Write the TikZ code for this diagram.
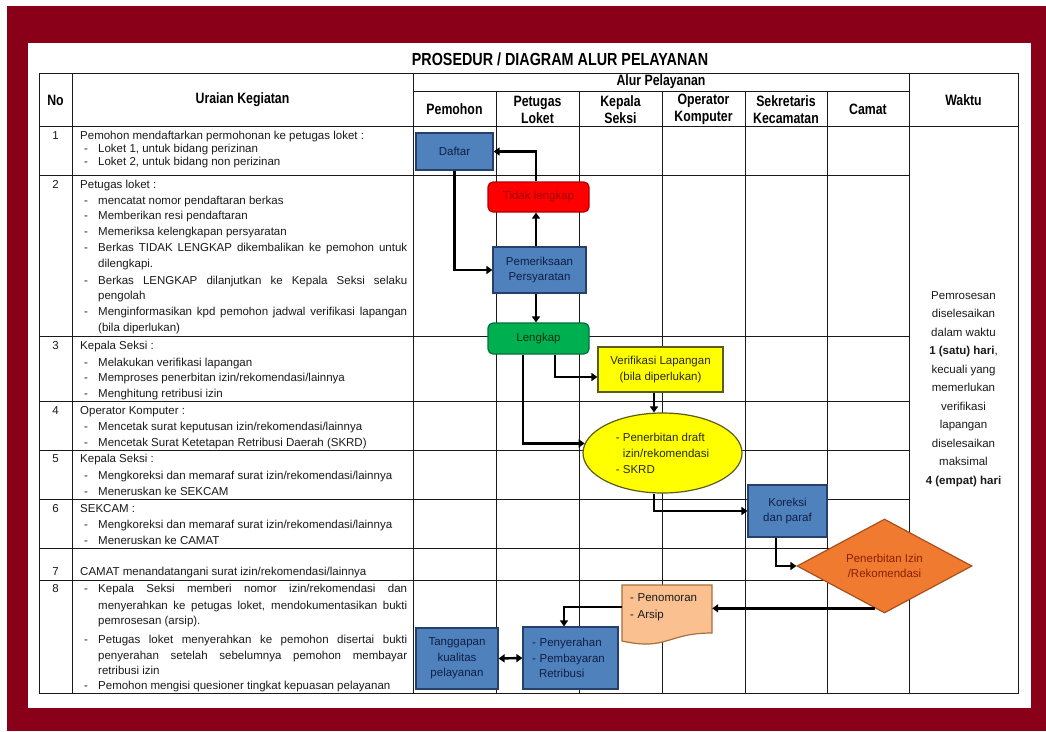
\documentclass[tikz,border=0pt]{standalone}
\usepackage{fontspec}
\setmainfont{Liberation Sans}
\newfontfamily\narrowfam[FakeStretch=0.82]{Liberation Sans}
\usetikzlibrary{shapes.geometric,arrows.meta,calc}
\definecolor{framered}{HTML}{8A0018}
\definecolor{gridc}{HTML}{1A1A1A}
\definecolor{txtc}{HTML}{1A1A1A}
\definecolor{bluefill}{HTML}{4F81BD}
\definecolor{bluedraw}{HTML}{26406B}
\definecolor{bluetext}{HTML}{0F1F45}
\definecolor{redfill}{HTML}{FF0000}
\definecolor{reddraw}{HTML}{B00000}
\definecolor{redtext}{HTML}{A00000}
\definecolor{greenfill}{HTML}{00B050}
\definecolor{greendraw}{HTML}{00703A}
\definecolor{greentext}{HTML}{0B3312}
\definecolor{yelfill}{HTML}{FFFF00}
\definecolor{yeldraw}{HTML}{5C5C1A}
\definecolor{yeltext}{HTML}{2A2A10}
\definecolor{orfill}{HTML}{F07B30}
\definecolor{ordraw}{HTML}{A8501C}
\definecolor{ortext}{HTML}{8B2000}
\definecolor{peachfill}{HTML}{FAC090}
\definecolor{peachdraw}{HTML}{A8703C}
\newcommand\bul{\makebox[14pt][l]{-}}
\newcommand\jl[1]{\makebox[309pt][s]{#1}}
\begin{document}
\begin{tikzpicture}[x=1pt,y=-1pt,
  gridln/.style={draw=gridc,line width=1pt},
  txt/.style={anchor=base west,inner sep=0,text=txtc,font=\fontsize{11.5}{13.8}\selectfont},
  num/.style={anchor=base,inner sep=0,text=txtc,font=\fontsize{11.5}{13.8}\selectfont},
  hdr/.style={inner sep=0,align=center,text=black,font=\narrowfam\bfseries\fontsize{15}{17}\selectfont},
  flowbox/.style={inner sep=0,align=center,line width=1.2pt,font=\fontsize{11.5}{15.5}\selectfont},
  bluebox/.style={flowbox,draw=bluedraw,fill=bluefill,text=bluetext},
  arr/.style={line width=2.4pt,-{Triangle[length=6pt,width=8pt]}},
  dbl/.style={line width=2.4pt,{Triangle[length=6pt,width=8pt]}-{Triangle[length=6pt,width=8pt]}}
]
\useasboundingbox (0,0) rectangle (1046,731);
\fill[white] (0,0) rectangle (1046,731);
\fill[framered] (7,6) rectangle (1046,731);
\fill[white] (28,43) rectangle (1031,708);

% title
\node[inner sep=0,font=\narrowfam\bfseries\fontsize{17.5}{20}\selectfont] (title) at (560,59.5) {PROSEDUR / DIAGRAM ALUR PELAYANAN};

% grid
\draw[gridln] (39,73) rectangle (1018,693);
\draw[gridln] (72,73) -- (72,693);
\draw[gridln] (413,73) -- (413,693);
\draw[gridln] (909,73) -- (909,693);
\draw[gridln] (413,91) -- (909,91);
\foreach \x in {496,579,662,745,827} \draw[gridln] (\x,91) -- (\x,693);
\draw[gridln] (39,126) -- (1018,126);
\foreach \y in {175,336,401,450,499,548,580} \draw[gridln] (39,\y) -- (909,\y);

% headers
\node[hdr] (hno) at (55.5,100) {No};
\node[hdr] (hur) at (242.5,100) {Uraian Kegiatan};
\node[hdr] (halur) at (661,82) {Alur Pelayanan};
\node[hdr] (hwak) at (963.5,100) {Waktu};
\node[hdr] (hpem) at (454.5,109.5) {Pemohon};
\node[hdr] (hpet) at (537.5,109.5) {Petugas\\Loket};
\node[hdr] (hkep) at (620.5,109.5) {Kepala\\Seksi};
\node[hdr] (hope) at (703.5,109.5) {Operator\\Komputer};
\node[hdr] (hsek) at (786,109.5) {Sekretaris\\Kecamatan};
\node[hdr] (hcam) at (868,109.5) {Camat};

% row numbers
\node[num] (n1) at (55.5,139) {1};
\node[num] (n2) at (55.5,188) {2};
\node[num] (n3) at (55.5,349) {3};
\node[num] (n4) at (55.5,414) {4};
\node[num] (n5) at (55.5,462.3) {5};
\node[num] (n6) at (55.5,512.3) {6};
\node[num] (n7) at (55.5,575.7) {7};
\node[num] (n8) at (55.5,592.3) {8};

% row 1
\node[txt] (r1h) at (80,139) {Pemohon mendaftarkan permohonan ke petugas loket :};
\node[txt] (r1a) at (84,152.3) {\bul Loket 1, untuk bidang perizinan};
\node[txt] (r1b) at (84,165.7) {\bul Loket 2, untuk bidang non perizinan};
% row 2
\node[txt] (r2h) at (80,188) {Petugas loket :};
\node[txt] (r2a) at (84,204) {\bul mencatat nomor pendaftaran berkas};
\node[txt] (r2b) at (84,219.5) {\bul Memberikan resi pendaftaran};
\node[txt] (r2c) at (84,235) {\bul Memeriksa kelengkapan persyaratan};
\node[txt] (r2d) at (84,251) {\bul\jl{Berkas TIDAK LENGKAP dikembalikan ke pemohon untuk}};
\node[txt] (r2e) at (98,267) {dilengkapi.};
\node[txt] (r2f) at (84,284) {\bul\jl{Berkas LENGKAP dilanjutkan ke Kepala Seksi selaku}};
\node[txt] (r2g) at (98,299.5) {pengolah};
\node[txt] (r2i) at (84,315.5) {\bul\jl{Menginformasikan kpd pemohon jadwal verifikasi lapangan}};
\node[txt] (r2j) at (98,331) {(bila diperlukan)};
% row 3
\node[txt] (r3h) at (80,349) {Kepala Seksi :};
\node[txt] (r3a) at (84,366) {\bul Melakukan verifikasi lapangan};
\node[txt] (r3b) at (84,381.7) {\bul Memproses penerbitan izin/rekomendasi/lainnya};
\node[txt] (r3c) at (84,397.3) {\bul Menghitung retribusi izin};
% row 4
\node[txt] (r4h) at (80,414) {Operator Komputer :};
\node[txt] (r4a) at (84,430) {\bul Mencetak surat keputusan izin/rekomendasi/lainnya};
\node[txt] (r4b) at (84,446.7) {\bul Mencetak Surat Ketetapan Retribusi Daerah (SKRD)};
% row 5
\node[txt] (r5h) at (80,462.3) {Kepala Seksi :};
\node[txt] (r5a) at (84,479) {\bul Mengkoreksi dan memaraf surat izin/rekomendasi/lainnya};
\node[txt] (r5b) at (84,495.7) {\bul Meneruskan ke SEKCAM};
% row 6
\node[txt] (r6h) at (80,512.3) {SEKCAM :};
\node[txt] (r6a) at (84,528) {\bul Mengkoreksi dan memaraf surat izin/rekomendasi/lainnya};
\node[txt] (r6b) at (84,544) {\bul Meneruskan ke CAMAT};
% row 7
\node[txt] (r7h) at (80,575.7) {CAMAT menandatangani surat izin/rekomendasi/lainnya};
% row 8
\node[txt] (r8a) at (84,592.3) {\bul\jl{Kepala Seksi memberi nomor izin/rekomendasi dan}};
\node[txt] (r8b) at (98,609) {\jl{menyerahkan ke petugas loket, mendokumentasikan bukti}};
\node[txt] (r8c) at (98,624) {pemrosesan (arsip).};
\node[txt] (r8d) at (84,643.3) {\bul\jl{Petugas loket menyerahkan ke pemohon disertai bukti}};
\node[txt] (r8e) at (98,659) {\jl{penyerahan setelah sebelumnya pemohon membayar}};
\node[txt] (r8f) at (98,674) {retribusi izin};
\node[txt] (r8g) at (84,689) {\bul Pemohon mengisi quesioner tingkat kepuasan pelayanan};

% waktu
\node[inner sep=0,align=center,text=txtc,font=\fontsize{11.5}{18.5}\selectfont] (waktu) at (963.5,389) {Pemrosesan\\diselesaikan\\dalam waktu\\\textbf{1 (satu) hari},\\kecuali yang\\memerlukan\\verifikasi\\lapangan\\diselesaikan\\maksimal\\\textbf{4 (empat) hari}};

% flow nodes
\node[bluebox,minimum width=77pt,minimum height=37pt] (daftar) at (454.5,151.5) {Daftar};
\node[flowbox,draw=reddraw,fill=redfill,text=redtext,rounded corners=5pt,minimum width=101pt,minimum height=30pt] (tidak) at (538.5,197) {Tidak lengkap};
\node[bluebox,minimum width=93pt,minimum height=46pt] (pem) at (539.5,270) {Pemeriksaan\\Persyaratan};
\node[flowbox,draw=greendraw,fill=greenfill,text=greentext,rounded corners=5pt,minimum width=101pt,minimum height=31pt] (lengkap) at (538.5,338.5) {Lengkap};
\node[flowbox,draw=yeldraw,fill=yelfill,text=yeltext,minimum width=125pt,minimum height=45pt] (verif) at (660.5,369.5) {Verifikasi Lapangan\\(bila diperlukan)};
\node[flowbox,ellipse,draw=yeldraw,fill=yelfill,text=yeltext,minimum width=159pt,minimum height=80pt,align=left,font=\fontsize{11.5}{16}\selectfont] (ell) at (662.5,453) {- Penerbitan draft\\\hspace*{7pt}izin/rekomendasi\\- SKRD};
\node[bluebox,minimum width=79pt,minimum height=52pt] (kor) at (787.5,511) {Koreksi\\dan paraf};
\node[flowbox,diamond,shape aspect=1.86,draw=ordraw,fill=orfill,text=ortext,minimum width=175pt,minimum height=94pt] (dia) at (884.5,566) {Penerbitan Izin\\/Rekomendasi};
\filldraw[fill=peachfill,draw=peachdraw,line width=1.2pt] (622,585) -- (712,585) -- (712,633) .. controls (667,633) and (667,651) .. (622,641) -- cycle;
\node[inner sep=0,minimum width=90pt,minimum height=44pt,text width=74pt,align=left,text=txtc,font=\fontsize{11.5}{17}\selectfont] (pen) at (667,607) {- Penomoran\\- Arsip};
\node[bluebox,minimum width=95pt,minimum height=62pt,text width=77pt,align=left] (peny) at (570.5,658) {- Penyerahan\\- Pembayaran\\\hspace*{7pt}Retribusi};
\node[bluebox,minimum width=82pt,minimum height=61pt] (tang) at (457,658.5) {Tanggapan\\kualitas\\pelayanan};

% connectors
\draw[arr] (daftar.south) |- (pem.west);
\coordinate (p1) at ([xshift=-3.5pt]pem.north);
\draw[arr] (p1) -- (p1 |- tidak.south);
\coordinate (t1) at ([xshift=-2.5pt]tidak.north);
\draw[arr] (t1) |- (daftar.east);
\coordinate (p2) at ([xshift=-3.5pt]pem.south);
\draw[arr] (p2) -- (p2 |- lengkap.north);
\coordinate (l1) at ([xshift=16.5pt]lengkap.south);
\coordinate (v1) at ([yshift=-7.5pt]verif.west);
\draw[arr] (l1) |- (v1);
\coordinate (l2) at ([xshift=-15.5pt]lengkap.south);
\draw[arr] (l2) |- (ell.173);
\coordinate (v2) at ([xshift=-6.5pt]verif.south);
\draw[arr] (v2) -- (v2 |- ell.north);
\coordinate (e1) at ([xshift=-8.5pt]ell.south);
\draw[arr] (e1) |- (kor.west);
\coordinate (k1) at ([xshift=-11.5pt]kor.south);
\draw[arr] (k1) |- (dia.west);
\coordinate (d1) at ($(dia.west)!0.89!(dia.south)$);
\draw[arr] (d1) -- (d1 -| pen.east);
\coordinate (s1) at ([xshift=-6.5pt]peny.north);
\draw[arr] (pen.west) -| (s1);
\draw[dbl] (tang.east) -- (peny.west);
\end{tikzpicture}
\end{document}
